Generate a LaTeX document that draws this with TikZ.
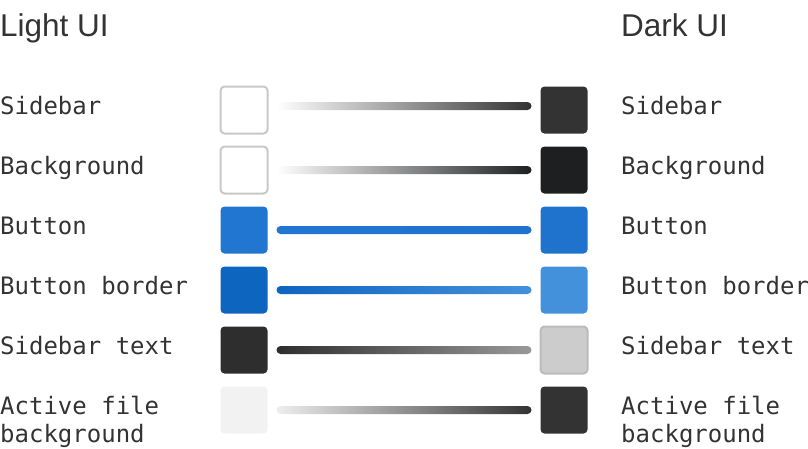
\documentclass[tikz,border=0pt]{standalone}
\usepackage{fontspec}
\setmainfont{Liberation Sans}
\setmonofont{DejaVu Sans Mono}
\usetikzlibrary{calc}
\definecolor{ink}{HTML}{333333}
\definecolor{edgegray}{HTML}{C8C8C8}
\definecolor{darkside}{HTML}{333333}
\definecolor{darkbg}{HTML}{1E1F21}
\definecolor{btnlight}{HTML}{2176D1}
\definecolor{btndark}{HTML}{1F73CC}
\definecolor{btnedgelight}{HTML}{0E65C0}
\definecolor{btnedgedark}{HTML}{4391DB}
\definecolor{sidetextlight}{HTML}{2E2E2E}
\definecolor{sidetextdark}{HTML}{CCCCCC}
\definecolor{sidetextedge}{HTML}{BBBBBB}
\definecolor{sidetextbar}{HTML}{999999}
\definecolor{activelight}{HTML}{F2F2F2}
\definecolor{activebar}{HTML}{EEEEEE}
\tikzset{
	swatch/.style   = {rectangle, rounded corners=4pt, minimum size=47pt,
		inner sep=0pt, line width=2pt, draw=none},
	edged/.style    = {swatch, draw=edgegray, fill=white},
	title/.style    = {anchor=base west, inner sep=0pt, text=ink,
		font=\fontsize{31.5}{36}\selectfont},
	label/.style    = {anchor=base west, inner sep=0pt, text=ink, align=left,
		font=\ttfamily\fontsize{24}{28}\selectfont}
}
\newcommand{\linkbar}[4]{% left node, right node, left color, right color
	\shade[left color=#3, right color=#4, rounded corners=4pt]
	($(#1.east)+(8,-4)$) rectangle ($(#2.west)+(-8,4)$);}

\begin{document}
\begin{tikzpicture}[x=1pt, y=-1pt]
\useasboundingbox (0,0) rectangle (808,448);
\draw
% headings
node at (0,36)[title] (hl) {Light UI}
node at (621,36)[title] (hd) {Dark UI}
% left column (base of a two-line label is its last line)
node at (0,114)[label] (t1) {Sidebar}
node at (0,174)[label] (t2) {Background}
node at (0,234)[label] (t3) {Button}
node at (0,294)[label] (t4) {Button border}
node at (0,354)[label] (t5) {Sidebar text}
node at (0,442)[label] (t6) {Active file\\background}
% right column
node at (621,114)[label] (u1) {Sidebar}
node at (621,174)[label] (u2) {Background}
node at (621,234)[label] (u3) {Button}
node at (621,294)[label] (u4) {Button border}
node at (621,354)[label] (u5) {Sidebar text}
node at (621,442)[label] (u6) {Active file\\background}
% light swatches
node at (244,110)[edged] (l1) {}
node at (244,170)[edged] (l2) {}
node at (244,230)[swatch, fill=btnlight] (l3) {}
node at (244,290)[swatch, fill=btnedgelight] (l4) {}
node at (244,350)[swatch, fill=sidetextlight] (l5) {}
node at (244,410)[swatch, fill=activelight] (l6) {}
% dark swatches
node at (564,110)[swatch, fill=darkside] (r1) {}
node at (564,170)[swatch, fill=darkbg] (r2) {}
node at (564,230)[swatch, fill=btndark] (r3) {}
node at (564,290)[swatch, fill=btnedgedark] (r4) {}
node at (564,350)[swatch, fill=sidetextdark, draw=sidetextedge] (r5) {}
node at (564,410)[swatch, fill=darkside] (r6) {};

% connecting bars
\shade[left color=white, right color=darkside, rounded corners=4pt]
	($(l1.east)+(8,-8)$) rectangle ($(r1.west)+(-8,0)$);
\linkbar{l2}{r2}{white}{darkbg}
\linkbar{l3}{r3}{btnlight}{btndark}
\linkbar{l4}{r4}{btnedgelight}{btnedgedark}
\linkbar{l5}{r5}{sidetextlight}{sidetextbar}
\linkbar{l6}{r6}{activebar}{darkside}
\end{tikzpicture}
\end{document}
